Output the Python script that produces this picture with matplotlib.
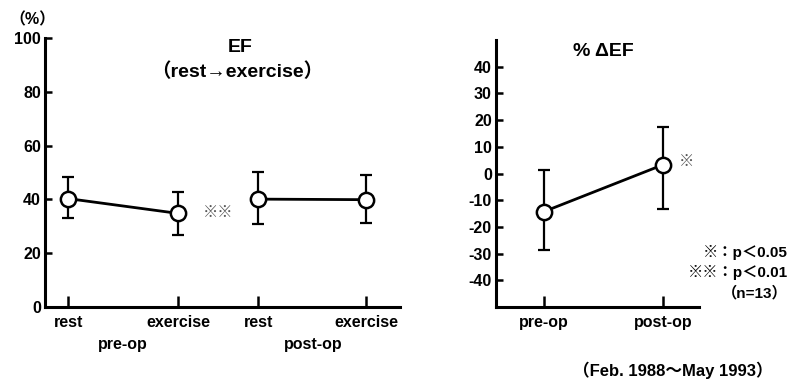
import numpy as np
import matplotlib
matplotlib.use('Agg')
import matplotlib.pyplot as plt

plt.rcParams['font.family'] = ['Liberation Sans', 'Noto Sans CJK JP', 'DejaVu Sans']
plt.rcParams['font.weight'] = 'bold'
plt.rcParams['axes.unicode_minus'] = False

# EF panel (rest -> exercise)
ef_pos = [0.0, 1.0, 1.73, 2.71]
ef_labels = ['rest', 'exercise', 'rest', 'exercise']
ef_mean = [40.3, 34.8, 40.1, 39.9]
ef_upper = [48.2, 42.8, 50.2, 49.0]
ef_lower = [33.0, 26.8, 30.9, 31.3]

# %delta EF panel
d_pos = [0.0, 1.0]
d_labels = ['pre-op', 'post-op']
d_mean = [-14.3, 3.3]
d_upper = [1.3, 17.3]
d_lower = [-28.5, -13.3]


def style_axis(ax):
    for s in ['top', 'right']:
        ax.spines[s].set_visible(False)
    for s in ['left', 'bottom']:
        ax.spines[s].set_linewidth(2.2)
    ax.tick_params(axis='y', direction='in', length=5, width=1.8, labelsize=11.5, pad=3)
    ax.tick_params(axis='x', direction='in', length=8, width=1.8, labelsize=11.5, pad=6)


def draw_pair(ax, xs, mean, upper, lower):
    m = np.array(mean)
    yerr = [m - np.array(lower), np.array(upper) - m]
    ax.errorbar(xs, m, yerr=yerr, fmt='none', ecolor='black', elinewidth=1.6,
                capsize=4.5, capthick=1.6, zorder=2)
    ax.plot(xs, m, color='black', lw=2.0, marker='o', ms=11, mfc='white',
            mec='black', mew=1.8, zorder=3)


fig = plt.figure(figsize=(7.94, 3.81), dpi=100)

ax1 = fig.add_axes([45 / 794, 1 - 307 / 381, 355 / 794, 269 / 381])
draw_pair(ax1, ef_pos[:2], ef_mean[:2], ef_upper[:2], ef_lower[:2])
draw_pair(ax1, ef_pos[2:], ef_mean[2:], ef_upper[2:], ef_lower[2:])
ax1.set_xlim(-0.21, 3.02)
ax1.set_ylim(0, 100)
ax1.set_yticks([0, 20, 40, 60, 80, 100])
ax1.set_xticks(ef_pos)
ax1.set_xticklabels(ef_labels)
style_axis(ax1)
ax1.text(ef_pos[1] + 0.23, ef_mean[1], '※※', fontsize=11, va='center', ha='left',
         color='#555555', fontweight='normal')

ax2 = fig.add_axes([496 / 794, 1 - 307 / 381, 203 / 794, 267 / 381])
draw_pair(ax2, d_pos, d_mean, d_upper, d_lower)
ax2.set_xlim(-0.40, 1.30)
ax2.set_ylim(-50, 50)
ax2.set_yticks(np.arange(-40, 41, 10))
ax2.set_xticks(d_pos)
ax2.set_xticklabels(d_labels)
style_axis(ax2)
ax2.text(d_pos[1] + 0.13, d_mean[1] + 1, '※', fontsize=11, va='center', ha='left',
         color='#555555', fontweight='normal')

# titles and notes
fig.text(32 / 794, 1 - 20 / 381, '（%）', fontsize=11.5, ha='center', va='center')
fig.text(240 / 794, 1 - 48 / 381, 'EF', fontsize=14, ha='center', va='center')
fig.text(237 / 794, 1 - 72 / 381, '（rest→exercise）', fontsize=14, ha='center',
         va='center')
fig.text(603 / 794, 1 - 51 / 381, '% ΔEF', fontsize=14, ha='center', va='center')
fig.text(123 / 794, 1 - 345 / 381, 'pre-op', fontsize=11.5, ha='center', va='center')
fig.text(313 / 794, 1 - 345 / 381, 'post-op', fontsize=11.5, ha='center', va='center')
fig.text(788 / 794, 1 - 253 / 381, '※：p＜0.05', fontsize=11, ha='right', va='center')
fig.text(788 / 794, 1 - 273 / 381, '※※：p＜0.01', fontsize=11, ha='right', va='center')
fig.text(788 / 794, 1 - 293 / 381, '（n=13）', fontsize=11, ha='right', va='center')
fig.text(773 / 794, 1 - 370 / 381, '（Feb. 1988～May 1993）', fontsize=12, ha='right',
         va='center')

fig.savefig('out.png', dpi=100)
